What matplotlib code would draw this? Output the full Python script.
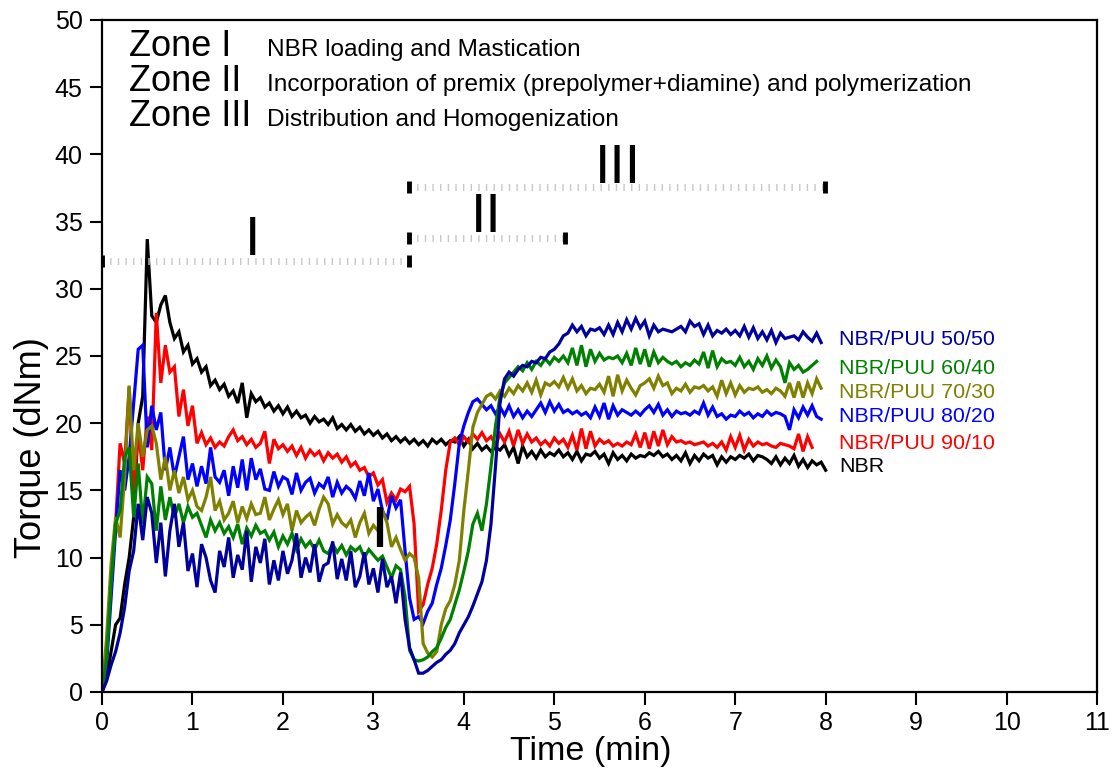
import numpy as np
import matplotlib
matplotlib.use("Agg")
import matplotlib.pyplot as plt

plt.rcParams['font.family'] = ['Liberation Sans', 'DejaVu Sans']

# sampling step of the torque traces (min)
step_min = 0.05

nbr = [0, 1.0, 3.0, 5.0, 5.5, 8.0, 10.0, 13.0, 20.0, 22.0, 33.7, 28.0, 27.5, 28.8, 29.5, 27.5, 26.3, 26.8, 25.3, 25.8,
       24.4, 24.8, 23.8, 24.2, 22.8, 23.2, 22.5, 22.9, 22.0, 22.4, 21.5, 23.0, 20.4, 22.2, 21.6, 21.9, 21.2, 21.5, 20.9, 21.3,
       20.7, 21.2, 20.5, 20.9, 20.4, 20.6, 20.0, 20.5, 20.1, 20.3, 19.9, 20.4, 19.6, 19.9, 19.5, 19.9, 19.4, 19.7, 19.2, 19.5,
       19.1, 19.4, 18.9, 19.2, 18.7, 19.0, 18.6, 18.9, 18.5, 18.8, 18.4, 18.7, 18.3, 18.8, 18.5, 18.8, 18.4, 18.7, 18.6, 19.0,
       18.3, 18.8, 18.1, 18.5, 18.0, 18.3, 17.9, 18.2, 18.0, 18.4, 17.6, 18.2, 17.0, 18.3, 17.5, 17.9, 17.4, 18.0, 17.5, 17.8,
       17.6, 18.0, 17.5, 17.8, 17.3, 17.9, 17.2, 17.7, 17.6, 17.9, 17.4, 17.7, 17.0, 17.8, 17.3, 17.6, 17.2, 17.7, 17.4, 17.6,
       17.5, 17.8, 17.6, 17.9, 17.5, 17.7, 17.3, 17.6, 17.2, 17.8, 17.0, 17.6, 17.2, 17.7, 17.4, 17.6, 16.9, 17.5, 17.1, 17.5,
       17.3, 17.6, 17.4, 17.7, 17.2, 17.6, 17.5, 17.3, 17.0, 17.5, 16.9, 17.4, 17.0, 17.6, 16.8, 17.3, 16.7, 17.2, 16.9, 17.1,
       16.5]

puu_90_10 = [0, 3.0, 8.0, 12.5, 18.5, 17.0, 22.7, 15.0, 19.5, 16.5, 20.5, 18.0, 28.2, 23.0, 25.8, 23.8, 24.2, 20.5, 22.5, 19.8,
             21.3, 18.5, 19.3, 18.4, 18.9, 18.2, 18.6, 18.3, 19.0, 19.5, 18.7, 19.0, 18.4, 18.8, 18.2, 18.5, 19.4, 17.0, 18.8, 18.1,
             18.4, 17.9, 18.3, 17.6, 18.2, 17.4, 18.0, 17.6, 17.9, 17.2, 17.8, 17.4, 17.7, 17.1, 17.5, 16.8, 17.1, 16.5, 16.7, 16.0,
             16.3, 15.4, 15.8, 14.1, 14.8, 14.3, 15.1, 14.9, 15.3, 12.5, 6.0, 6.5, 8.0, 9.2, 11.0, 13.5, 16.5, 18.6, 18.9, 18.4,
             19.0, 18.6, 19.2, 18.8, 19.3, 18.7, 19.0, 18.4, 19.2, 18.6, 19.4, 18.3, 19.5, 18.5, 19.2, 18.6, 18.9, 18.4, 18.7, 18.3,
             18.9, 18.5, 18.8, 18.2, 19.1, 18.0, 19.6, 18.1, 19.4, 18.3, 18.8, 18.5, 18.7, 18.3, 18.5, 18.3, 18.6, 18.4, 19.2, 18.2,
             19.3, 18.1, 19.4, 18.3, 19.5, 18.4, 19.0, 18.6, 18.7, 18.5, 18.6, 18.4, 18.5, 18.6, 18.3, 18.5, 18.2, 18.6, 18.0, 19.0,
             18.2, 19.1, 18.0, 18.8, 18.3, 18.6, 18.4, 18.5, 18.3, 18.2, 18.5, 18.4, 18.3, 18.1, 19.2, 17.9, 19.0, 18.2]

puu_80_20 = [0, 2.0, 7.0, 12.0, 16.5, 15.0, 17.5, 21.5, 25.5, 25.8, 18.2, 21.3, 19.5, 20.8, 16.5, 18.2, 16.0, 17.5, 19.0, 15.8,
             17.0, 15.3, 16.8, 15.5, 18.2, 16.0, 15.6, 16.5, 14.6, 16.8, 15.2, 17.3, 15.0, 17.4, 15.8, 16.6, 15.1, 15.0, 16.4, 15.3,
             16.0, 15.8, 14.7, 16.3, 15.0, 15.6, 15.9, 14.8, 15.5, 15.2, 16.0, 14.5, 15.6, 14.8, 15.3, 15.0, 14.4, 15.7, 14.6, 16.3,
             14.2, 15.1, 13.5, 12.8, 14.6, 13.7, 14.3, 10.5, 7.0, 5.4, 5.6, 5.1, 6.0, 6.6, 8.0, 9.2, 10.9, 12.8, 15.5, 18.5,
             19.8, 20.8, 21.6, 21.8, 21.4, 21.0, 21.3, 20.7, 21.2, 20.6, 21.3, 20.5, 21.0, 20.4, 20.9, 20.5, 21.0, 21.5, 20.8, 21.6,
             20.9, 21.4, 20.8, 21.0, 20.7, 20.9, 20.6, 20.8, 20.4, 21.2, 20.5, 21.5, 20.3, 21.3, 20.6, 21.0, 20.8, 20.6, 20.9, 20.6,
             21.0, 21.3, 20.8, 21.4, 20.6, 21.0, 20.5, 20.9, 20.7, 20.8, 20.6, 20.9, 20.7, 21.5, 20.6, 21.2, 20.5, 20.7, 20.3, 20.6,
             20.5, 20.9, 20.6, 20.8, 20.4, 20.7, 20.5, 20.9, 20.6, 20.8, 20.7, 20.5, 19.5, 21.0, 20.4, 21.2, 20.6, 21.3, 20.5, 20.3]

puu_70_30 = [0, 4.0, 9.5, 13.0, 11.5, 16.0, 22.8, 16.5, 20.0, 17.5, 19.5, 19.8, 18.5, 15.8, 17.5, 15.0, 16.5, 14.8, 16.0, 14.3,
             15.0, 13.8, 13.5, 14.5, 16.0, 13.5, 14.2, 12.8, 13.3, 14.2, 12.6, 13.8, 12.9, 14.0, 13.2, 13.3, 14.5, 12.8, 13.6, 14.3,
             13.2, 14.0, 12.0, 13.5, 12.6, 13.0, 13.3, 12.4, 13.6, 14.5, 14.0, 12.5, 13.2, 12.6, 12.3, 12.8, 11.5, 12.6, 13.3, 11.8,
             12.4, 12.0, 13.5, 12.6, 10.8, 11.5, 10.6, 9.8, 10.3, 10.0, 8.5, 3.6, 2.9, 2.6, 3.0, 5.0, 6.2, 6.8, 8.0, 9.8,
             13.5, 16.5, 19.7, 20.8, 21.4, 22.0, 22.2, 21.8, 22.4, 22.0, 22.6, 22.2, 22.8, 22.4, 23.0, 22.3, 23.2, 22.1, 23.0, 22.8,
             23.1, 22.7, 23.4, 22.6, 23.3, 22.4, 22.8, 22.2, 22.6, 22.5, 22.9, 22.3, 23.5, 22.0, 23.6, 22.4, 23.2, 22.6, 22.1, 22.8,
             23.0, 23.3, 22.6, 23.5, 22.8, 23.0, 22.2, 22.6, 22.4, 22.9, 22.3, 22.7, 22.6, 22.8, 22.4, 22.7, 22.0, 23.2, 22.2, 23.0,
             22.1, 22.8, 22.3, 22.6, 22.5, 22.7, 22.3, 22.5, 22.2, 22.6, 22.4, 22.0, 23.0, 21.9, 23.1, 21.9, 23.0, 22.2, 23.3, 22.6]

puu_60_40 = [0, 2.5, 8.0, 12.5, 13.5, 17.5, 18.2, 13.0, 17.0, 12.5, 16.0, 15.5, 12.0, 15.3, 12.8, 14.5, 13.0, 14.0, 12.6, 13.8,
             13.0, 13.3, 12.4, 11.5, 12.8, 12.0, 12.6, 11.8, 12.3, 11.5, 12.5, 11.0, 12.2, 11.6, 12.4, 11.8, 12.0, 11.3, 11.9, 10.8,
             11.6, 11.0, 11.8, 10.6, 11.4, 10.8, 11.2, 10.6, 11.3, 10.5, 10.3, 11.0, 10.4, 10.9, 10.2, 10.8, 10.5, 10.8, 10.0, 10.6,
             10.2, 9.8, 10.1, 9.3, 8.5, 9.4, 9.1, 7.1, 3.1, 2.4, 2.3, 2.4, 2.6, 3.0, 3.3, 4.0, 4.8, 5.4, 6.5, 7.6,
             9.0, 10.5, 12.5, 13.3, 12.0, 14.0, 16.8, 19.8, 22.0, 23.0, 23.4, 23.8, 24.2, 23.9, 24.5, 24.0, 24.6, 24.3, 24.8, 24.4,
             24.9, 24.6, 25.0, 24.5, 25.6, 24.3, 25.8, 24.2, 25.5, 24.6, 25.2, 24.7, 24.9, 24.8, 25.0, 24.5, 25.2, 24.3, 25.6, 24.4,
             25.5, 24.2, 25.3, 24.5, 24.9, 24.6, 24.4, 24.6, 24.2, 24.5, 24.3, 24.7, 24.4, 25.3, 24.1, 25.4, 24.2, 24.8, 24.5, 24.6,
             24.3, 24.9, 24.2, 24.6, 24.0, 24.8, 24.3, 25.0, 24.1, 24.7, 24.2, 23.0, 24.5, 24.0, 24.3, 23.8, 24.0, 24.3, 24.6]

puu_50_50 = [0, 0.8, 2.0, 3.0, 4.4, 6.3, 9.0, 10.5, 14.0, 11.3, 14.5, 13.3, 9.6, 12.6, 8.6, 12.0, 14.0, 10.8, 12.6, 9.0,
             10.3, 7.8, 11.0, 10.0, 8.3, 7.4, 10.5, 9.3, 11.5, 8.5, 10.2, 9.1, 12.0, 8.2, 10.8, 9.6, 11.4, 8.0, 9.8, 8.3,
             10.5, 8.8, 9.8, 11.8, 8.5, 10.0, 8.9, 11.0, 8.2, 9.4, 9.6, 11.2, 8.4, 9.9, 8.3, 10.5, 7.8, 8.6, 10.4, 8.0,
             9.2, 7.4, 9.9, 7.8, 8.6, 6.6, 8.9, 5.4, 3.3, 2.4, 1.4, 1.4, 1.6, 1.9, 2.2, 2.4, 2.8, 3.1, 3.6, 4.4,
             5.0, 5.6, 6.4, 7.3, 8.2, 9.8, 12.5, 16.8, 21.5, 23.3, 23.8, 23.5, 24.0, 24.3, 24.2, 24.6, 24.5, 24.9, 24.8, 25.3,
             25.5, 25.9, 26.5, 26.7, 27.3, 26.8, 27.2, 26.5, 27.0, 26.9, 27.1, 26.6, 27.3, 26.6, 27.5, 26.8, 27.7, 27.0, 27.8, 27.1,
             27.6, 26.5, 27.3, 26.8, 27.0, 26.9, 26.8, 27.0, 27.2, 26.8, 27.6, 27.2, 27.4, 26.6, 27.3, 26.5, 26.9, 26.7, 27.0, 26.6,
             26.9, 26.5, 27.2, 26.4, 27.1, 26.3, 26.8, 26.2, 26.9, 26.0, 26.7, 26.3, 26.4, 26.5, 26.2, 26.8, 26.4, 26.1, 26.7, 26.0]

series_labels = ['NBR', 'NBR/PUU 90/10', 'NBR/PUU 80/20', 'NBR/PUU 70/30', 'NBR/PUU 60/40', 'NBR/PUU 50/50']
series_values = [nbr, puu_90_10, puu_80_20, puu_70_30, puu_60_40, puu_50_50]
series_colors = ['#000000', '#ff0000', '#0000ff', '#808000', '#008000', '#00009c']
label_y = [16.75, 18.5, 20.5, 22.3, 24.1, 26.2]

zone_names = ['Zone I', 'Zone II', 'Zone III']
zone_desc = ['NBR loading and Mastication',
             'Incorporation of premix (prepolymer+diamine) and polymerization',
             'Distribution and Homogenization']
zone_roman = ['I', 'II', 'III']
zone_start = [0.0, 3.39, 3.39]
zone_end = [3.39, 5.12, 7.99]
zone_level = [32.05, 33.75, 37.6]
roman_x = [1.66, 4.25, 5.7]
roman_y = [32.5, 34.2, 37.9]

# short thick black mark seen near 3.07 min
mark_x = [3.07, 3.07]
mark_y = [10.8, 13.8]

fig = plt.figure(figsize=(11.15, 7.75), dpi=100)
ax = fig.add_axes([0.0915, 0.1071, 0.8924, 0.8671])

for vals, col in zip(series_values, series_colors):
    t = np.arange(len(vals)) * step_min
    ax.plot(t, vals, color=col, lw=2.3, solid_joinstyle='miter')

ax.plot(mark_x, mark_y, color='black', lw=4.5, solid_capstyle='butt')

for x0, x1, y in zip(zone_start, zone_end, zone_level):
    ax.plot([x0, x1], [y, y], color='#c8c8c8', lw=5, linestyle=(0, (0.2, 0.9)),
            dash_capstyle='butt')
    ax.plot([x0, x1], [y, y], ls='none', marker='|', ms=9, mew=3.5, color='black')

for rx, ry, r in zip(roman_x, roman_y, zone_roman):
    ax.text(rx, ry, r, fontsize=40, ha='center', va='baseline', color='black')

zone_text_y = [47.3, 44.7, 42.1]
for name, desc, y in zip(zone_names, zone_desc, zone_text_y):
    ax.text(0.3, y, name, fontsize=26, ha='left', va='baseline')
    ax.text(1.82, y, desc, fontsize=17.6, ha='left', va='baseline')

for lab, col, y in zip(series_labels, series_colors, label_y):
    ax.text(8.15, y, lab, color=col, fontsize=15.4, ha='left', va='center')

ax.set_xlim(0, 11)
ax.set_ylim(0, 50)
ax.set_xticks(range(0, 12))
ax.set_yticks(range(0, 51, 5))
ax.tick_params(axis='both', which='both', direction='out', length=9, width=1.5,
               labelsize=18, top=False, right=False, pad=5)
for sp in ax.spines.values():
    sp.set_linewidth(1.6)
ax.set_xlabel('Time (min)', fontsize=24.5)
ax.xaxis.set_label_coords(0.4915, -0.066)
ax.set_ylabel('Torque (dNm)', fontsize=26)
ax.yaxis.set_label_coords(-0.053, 0.364)

fig.savefig('out.png', dpi=100)
